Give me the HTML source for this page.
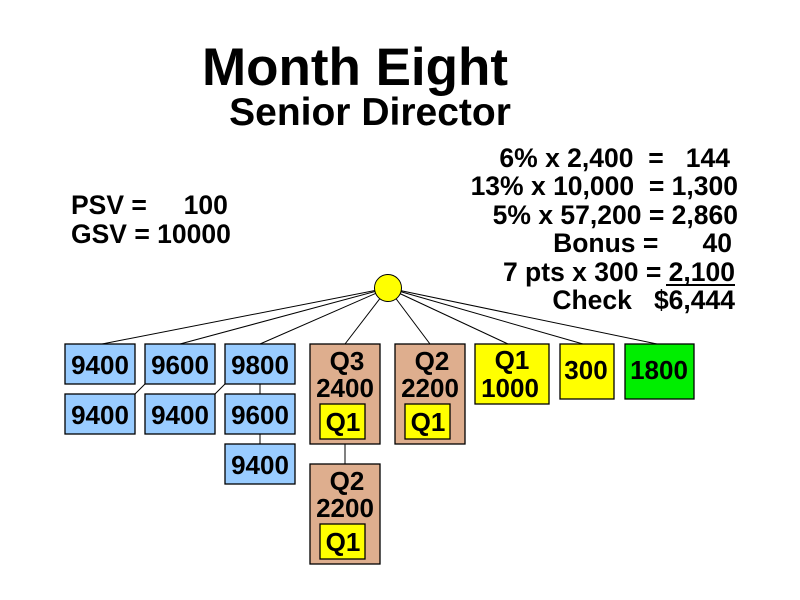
<!DOCTYPE html>
<html><head><meta charset="utf-8"><style>html,body{margin:0;padding:0;background:#fff}svg{display:block}text{font-family:"Liberation Sans",Arial,sans-serif;font-weight:bold;fill:#000}</style></head>
<body>
<svg width="800" height="600" viewBox="0 0 800 600" xmlns="http://www.w3.org/2000/svg">
<rect width="800" height="600" fill="#fff"/>
<text x="355" y="85" font-size="53" text-anchor="middle">Month Eight</text>
<text x="370" y="125" font-size="39" text-anchor="middle">Senior Director</text>
<g font-size="26.5" text-anchor="end">
<text x="730" y="167" xml:space="preserve">6% x 2,400  =   144</text>
<text x="738" y="195" xml:space="preserve">13% x 10,000  = 1,300</text>
<text x="738" y="224" xml:space="preserve">5% x 57,200 = 2,860</text>
<text x="732" y="252" xml:space="preserve">Bonus =      40</text>
<text x="735" y="281" xml:space="preserve">7 pts x 300 = 2,100</text>
<text x="735" y="309" xml:space="preserve">Check   $6,444</text>
</g>
<line x1="666" y1="285" x2="735" y2="285" stroke="#000" stroke-width="2"/>
<text x="71" y="214" font-size="26.5" xml:space="preserve">PSV =     100</text>
<text x="71" y="243" font-size="26.5">GSV = 10000</text>
<g stroke="#000" stroke-width="1">
<line x1="388" y1="288" x2="102" y2="344"/>
<line x1="388" y1="288" x2="180" y2="344"/>
<line x1="388" y1="288" x2="260" y2="344"/>
<line x1="388" y1="288" x2="345" y2="344"/>
<line x1="388" y1="288" x2="430" y2="344"/>
<line x1="388" y1="288" x2="508" y2="344"/>
<line x1="388" y1="288" x2="583" y2="344"/>
<line x1="388" y1="288" x2="657" y2="344"/>
<line x1="145" y1="384" x2="135" y2="394"/>
<line x1="225" y1="384" x2="215" y2="394"/>
<line x1="260" y1="384" x2="260" y2="394"/>
<line x1="260" y1="434" x2="260" y2="444"/>
<line x1="345" y1="444" x2="345" y2="464"/>
</g>
<circle cx="388" cy="288" r="13.5" fill="#ffff00" stroke="#000"/>
<g stroke="#000" stroke-width="1.3" fill="#99ccff">
<rect x="65" y="344" width="70" height="40"/>
<rect x="145" y="344" width="70" height="40"/>
<rect x="225" y="344" width="70" height="40"/>
<rect x="65" y="394" width="70" height="40"/>
<rect x="145" y="394" width="70" height="40"/>
<rect x="225" y="394" width="70" height="40"/>
<rect x="225" y="444" width="70" height="40"/>
</g>
<g stroke="#000" stroke-width="1.3">
<rect x="310" y="344" width="70" height="100" fill="#deae8e"/>
<rect x="310" y="464" width="70" height="100" fill="#deae8e"/>
<rect x="395" y="344" width="70" height="100" fill="#deae8e"/>
<rect x="320" y="404" width="45" height="35" fill="#ffff00"/>
<rect x="320" y="524" width="45" height="35" fill="#ffff00"/>
<rect x="405" y="404" width="45" height="35" fill="#ffff00"/>
<rect x="475" y="344" width="74" height="60" fill="#ffff00"/>
<rect x="560" y="344" width="54" height="55" fill="#ffff00"/>
<rect x="625" y="344" width="69" height="55" fill="#00ee00"/>
</g>
<g font-size="26" text-anchor="middle">
<text x="100" y="374">9400</text>
<text x="180" y="374">9600</text>
<text x="260" y="374">9800</text>
<text x="100" y="424">9400</text>
<text x="180" y="424">9400</text>
<text x="260" y="424">9600</text>
<text x="260" y="474">9400</text>
<text x="347" y="370">Q3</text>
<text x="345" y="397">2400</text>
<text x="343" y="431">Q1</text>
<text x="347" y="490">Q2</text>
<text x="345" y="517">2200</text>
<text x="343" y="551">Q1</text>
<text x="432" y="370">Q2</text>
<text x="430" y="397">2200</text>
<text x="428" y="431">Q1</text>
<text x="512" y="369">Q1</text>
<text x="510" y="397">1000</text>
<text x="586" y="379">300</text>
<text x="659" y="379">1800</text>
</g>
</svg>
</body></html>
